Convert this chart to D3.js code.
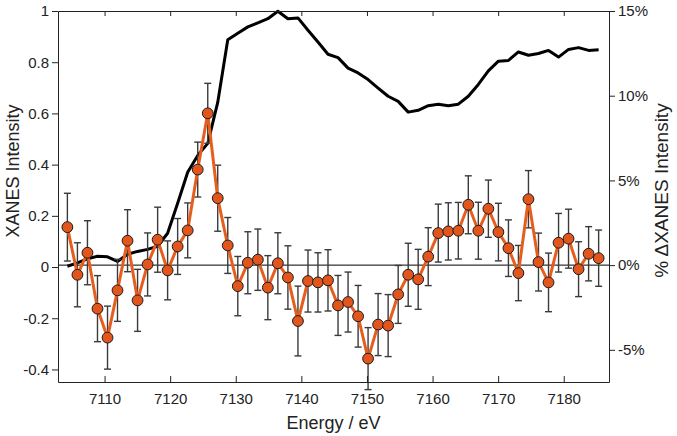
<!DOCTYPE html>
<html>
<head>
<meta charset="utf-8">
<script src="https://cdn.jsdelivr.net/npm/d3@7"></script>
<style>
  body { margin: 0; background: #fff; }
  text { font-family: Arial, "Liberation Sans", sans-serif; fill: #222; }
</style>
</head>
<body>
<div class="canvas1"></div>
<script>
// energies of the measured points (eV)
const energy = [7104.33, 7105.86, 7107.39, 7108.92, 7110.45, 7111.97, 7113.50, 7115.03, 7116.56, 7118.09,
  7119.61, 7121.14, 7122.67, 7124.20, 7125.73, 7127.25, 7128.78, 7130.31, 7131.84, 7133.37,
  7134.89, 7136.42, 7137.95, 7139.48, 7141.01, 7142.53, 7144.06, 7145.59, 7147.12, 7148.65,
  7150.17, 7151.70, 7153.23, 7154.76, 7156.29, 7157.81, 7159.34, 7160.87, 7162.40, 7163.93,
  7165.45, 7166.98, 7168.51, 7170.04, 7171.57, 7173.09, 7174.62, 7176.15, 7177.68, 7179.21,
  7180.73, 7182.26, 7183.79, 7185.32];

// XANES spectrum (left axis)
const xanes = [0.003, 0.016, 0.032, 0.042, 0.040, 0.022, 0.050, 0.061, 0.069, 0.081,
  0.132, 0.249, 0.370, 0.436, 0.483, 0.643, 0.888, 0.913, 0.938, 0.954,
  0.970, 0.999, 0.970, 0.973, 0.925, 0.879, 0.831, 0.818, 0.777, 0.758,
  0.732, 0.699, 0.667, 0.647, 0.605, 0.612, 0.630, 0.636, 0.630, 0.636,
  0.667, 0.713, 0.766, 0.804, 0.807, 0.840, 0.827, 0.834, 0.846, 0.820,
  0.850, 0.857, 0.846, 0.849];

// % delta XANES (right axis) and its error
const diff = [2.24, -0.57, 0.73, -2.57, -4.28, -1.49, 1.44, -2.08, 0.04, 1.50,
  -0.31, 1.10, 2.05, 5.64, 8.96, 3.95, 1.16, -1.24, 0.14, 0.32,
  -1.33, 0.11, -0.73, -3.30, -0.94, -1.02, -0.90, -2.38, -2.18, -3.02,
  -5.52, -3.51, -3.57, -1.73, -0.57, -0.84, 0.50, 1.89, 1.99, 2.03,
  3.56, 2.03, 3.33, 1.95, 1.00, -0.47, 3.89, 0.18, -1.02, 1.32,
  1.56, -0.24, 0.67, 0.41];
const diffErr = [2.00, 1.89, 1.89, 1.95, 1.86, 1.83, 1.83, 1.83, 1.86, 1.92,
  1.74, 1.65, 1.62, 1.62, 1.77, 1.95, 1.65, 1.75, 1.83, 1.81,
  1.89, 1.80, 1.87, 2.06, 1.83, 1.75, 1.81, 1.77, 1.77, 1.82,
  1.83, 1.83, 1.83, 1.71, 1.86, 1.77, 1.71, 1.71, 1.69, 1.67,
  1.71, 1.68, 1.69, 1.70, 1.67, 1.63, 1.69, 1.71, 1.73, 1.73,
  1.74, 1.62, 1.60, 1.66];

const xTicks = [7110, 7120, 7130, 7140, 7150, 7160, 7170, 7180];
const yLeftTicks = [-0.4, -0.2, 0, 0.2, 0.4, 0.6, 0.8, 1];
const yRightTicks = [-5, 0, 5, 10, 15];

const margin = { top: 11, right: 68, bottom: 54, left: 58 };
const width = 677 - margin.left - margin.right;
const height = 436 - margin.top - margin.bottom;

const svg = d3.select(".canvas1").append("svg")
    .attr("width", width + margin.left + margin.right)
    .attr("height", height + margin.top + margin.bottom)
  .append("g")
    .attr("transform", "translate(" + margin.left + "," + margin.top + ")");

// scales
const x = d3.scaleLinear().domain([7102.9, 7186.9]).range([0, width]);
const yL = d3.scaleLinear().domain([-0.449, 1.0]).range([height, 0]);
const yR = d3.scaleLinear().domain([-6.9, 15]).range([height, 0]);

const data = energy.map((e, i) => ({ e: e, xanes: xanes[i], d: diff[i], err: diffErr[i] }));

// XANES line
const xanesLine = d3.line()
  .x(d => x(d.e))
  .y(d => yL(d.xanes));

svg.append("path")
  .datum(data)
  .attr("fill", "none")
  .attr("stroke", "#000")
  .attr("stroke-width", 3)
  .attr("stroke-linejoin", "round")
  .attr("d", xanesLine);

// zero line
svg.append("line")
  .attr("x1", 0).attr("x2", width)
  .attr("y1", yR(0)).attr("y2", yR(0))
  .attr("stroke", "#000")
  .attr("stroke-width", 1);

// error bars
const bars = svg.append("g").attr("stroke", "#3a3a3a").attr("stroke-width", 1.4);
data.forEach(d => {
  const cx = x(d.e), y1 = yR(d.d + d.err), y2 = yR(d.d - d.err);
  bars.append("line").attr("x1", cx).attr("x2", cx).attr("y1", y1).attr("y2", y2);
  bars.append("line").attr("x1", cx - 3.5).attr("x2", cx + 3.5).attr("y1", y1).attr("y2", y1);
  bars.append("line").attr("x1", cx - 3.5).attr("x2", cx + 3.5).attr("y1", y2).attr("y2", y2);
});

// delta line + dots
const diffLine = d3.line()
  .x(d => x(d.e))
  .y(d => yR(d.d));

svg.append("path")
  .datum(data)
  .attr("fill", "none")
  .attr("stroke", "#E65E1D")
  .attr("stroke-width", 3)
  .attr("d", diffLine);

svg.selectAll("circle.pt")
  .data(data)
  .enter().append("circle")
  .attr("class", "pt")
  .attr("cx", d => x(d.e))
  .attr("cy", d => yR(d.d))
  .attr("r", 5.4)
  .attr("fill", "#E2561D")
  .attr("stroke", "#1a1a1a")
  .attr("stroke-width", 1);

// axes
const styleAxis = g => {
  g.select(".domain").attr("stroke", "#222");
  g.selectAll(".tick line").attr("stroke", "#222");
  g.selectAll(".tick text").style("font-size", "15px").attr("fill", "#222");
};

svg.append("g")
  .attr("transform", "translate(0," + height + ")")
  .call(d3.axisBottom(x).tickValues(xTicks).tickSize(-6).tickSizeOuter(0).tickPadding(11).tickFormat(d3.format("d")))
  .call(styleAxis);

svg.append("g")
  .call(d3.axisTop(x).tickValues(xTicks).tickSize(-5).tickSizeOuter(0).tickFormat(""))
  .call(styleAxis);

svg.append("g")
  .call(d3.axisLeft(yL).tickValues(yLeftTicks).tickSize(6).tickSizeOuter(0).tickPadding(3)
    .tickFormat(d => String(+d.toFixed(1))))
  .call(styleAxis);

svg.append("g")
  .attr("transform", "translate(" + width + ",0)")
  .call(d3.axisRight(yR).tickValues(yRightTicks).tickSize(6).tickSizeOuter(0).tickPadding(3)
    .tickFormat(d => d + "%"))
  .call(styleAxis);

// axis titles
svg.append("text")
  .attr("x", width / 2)
  .attr("y", height + 47)
  .attr("text-anchor", "middle")
  .style("font-size", "18px")
  .text("Energy / eV");

svg.append("text")
  .attr("transform", "rotate(-90)")
  .attr("x", -160)
  .attr("y", -margin.left + 19)
  .attr("text-anchor", "middle")
  .style("font-size", "18px")
  .text("XANES Intensity");

svg.append("text")
  .attr("transform", "rotate(-90)")
  .attr("x", -height / 2 + 6)
  .attr("y", width + 59)
  .attr("text-anchor", "middle")
  .style("font-size", "19px")
  .text("% \u0394XANES Intensity");
</script>
</body>
</html>
